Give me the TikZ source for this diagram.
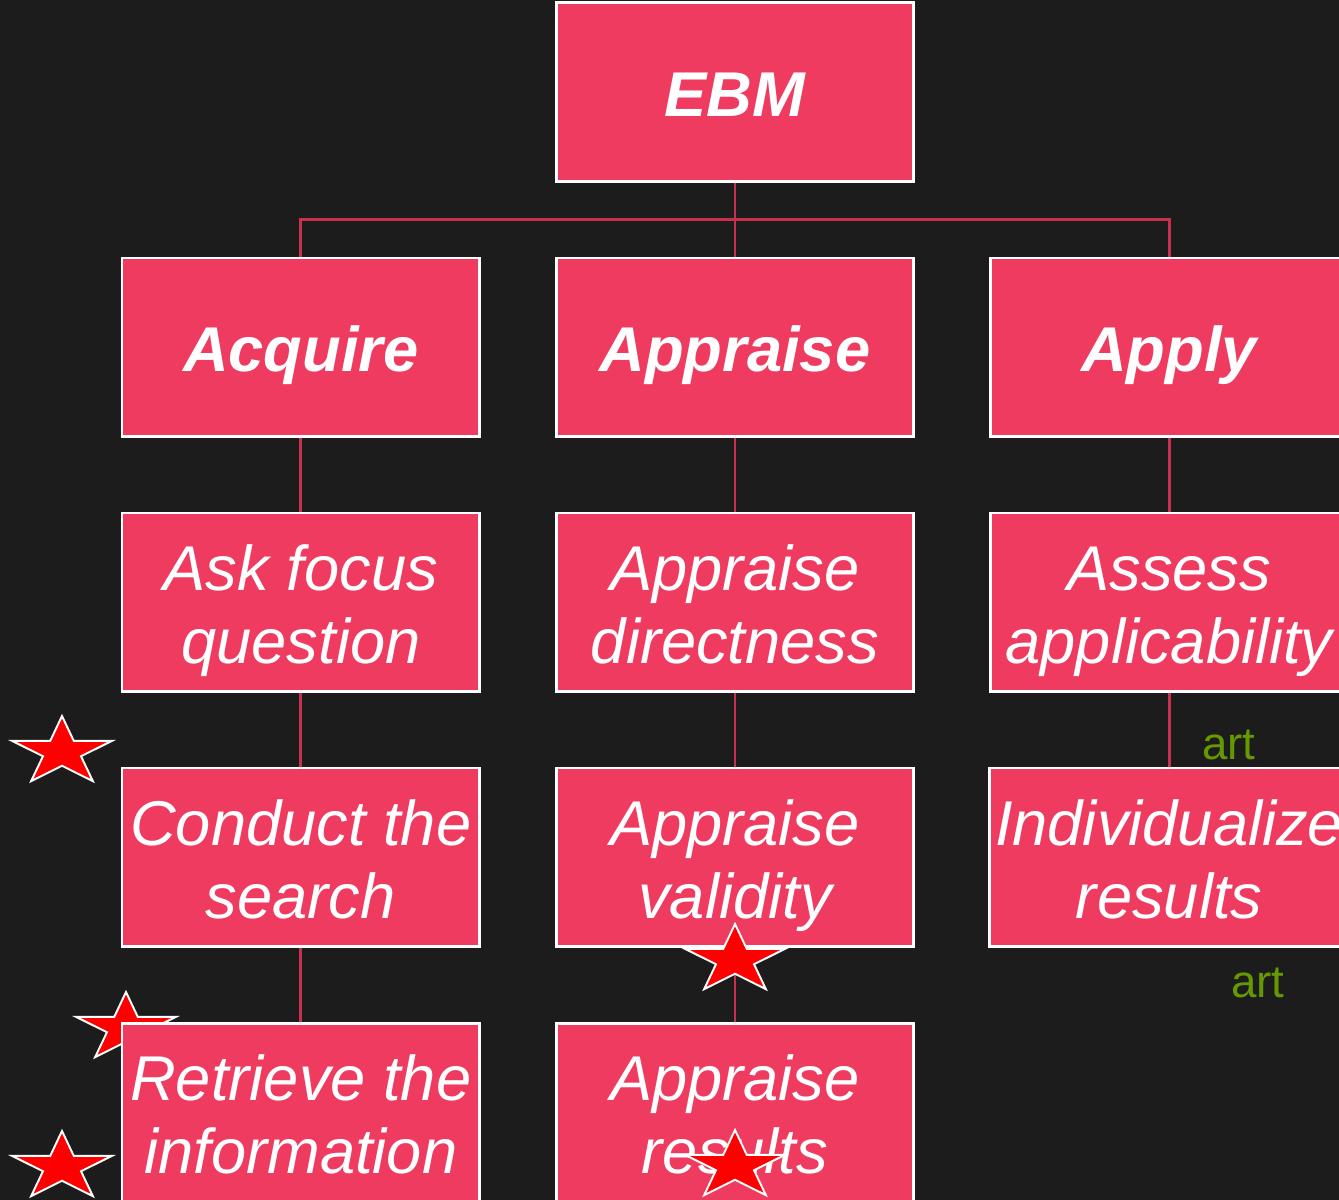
\documentclass[tikz,border=0pt]{standalone}
\usepackage{fontspec}
\setmainfont{Liberation Sans}
\usepackage{xcolor}
\usetikzlibrary{positioning, calc}

\definecolor{bgdark}{HTML}{1C1C1C}
\definecolor{boxred}{HTML}{EF3B5F}
\definecolor{linkred}{HTML}{C8304F}
\definecolor{artgreen}{HTML}{669900}

\newcommand{\boxstrut}{\rule[-8pt]{0pt}{43.8pt}}

\begin{document}
\begin{tikzpicture}[node distance=1.48cm,
    box/.style={rectangle, minimum width=7.15cm, minimum height=3.57cm, align=center, draw=white, line width=1.5pt, fill=boxred, text=white, font=\fontsize{36}{41.5}\selectfont\itshape, execute at end node=\boxstrut},
    head/.style={box, font=\fontsize{36}{41.5}\selectfont\bfseries\itshape},
    link/.style={draw=linkred, line width=1.6pt},
    artnote/.style={text=artgreen, font=\fontsize{26}{30}\selectfont},
    redstar/.pic={\filldraw[fill=red, draw=white, line width=1.1pt] (90:1.05 and 0.72)
        \foreach \k in {0,...,4} { -- ({126+72*\k}:0.4 and 0.275) -- ({162+72*\k}:1.05 and 0.72) } -- cycle;}]

\useasboundingbox[fill=bgdark] (0,0) rectangle (26.78,-24);

\pic at (2.52,-20.56) {redstar};

\node (ebm) [head] at (14.7,-1.84) {\boxstrut EBM};
\node (app) [head, below=of ebm] {\boxstrut Appraise};
\node (acq) [head, left=of app] {\boxstrut Acquire};
\node (apl) [head, right=of app] {\boxstrut Apply};

\node (ask) [box, below=of acq] {\boxstrut Ask focus\\question};
\node (srch) [box, below=of ask] {\boxstrut Conduct the\\search};
\node (retr) [box, below=of srch] {\boxstrut Retrieve the\\information};
\node (dir) [box, below=of app] {\boxstrut Appraise\\directness};
\node (val) [box, below=of dir] {\boxstrut Appraise\\validity};
\node (res) [box, below=of val] {\boxstrut Appraise\\results};
\node (aplc) [box, below=of apl] {\boxstrut Assess\\applicability};
\node (indv) [box, below=of aplc] {\boxstrut Individualize\\results};

\coordinate (bar) at ($(ebm.south)!0.5!(app.north)$);
\draw [link] (ebm) -- (app);
\draw [link] (acq.north) |- (bar) -| (apl.north);
\draw [link] (acq) -- (ask);
\draw [link] (ask) -- (srch);
\draw [link] (srch) -- (retr);
\draw [link] (app) -- (dir);
\draw [link] (dir) -- (val);
\draw [link] (val) -- (res);
\draw [link] (apl) -- (aplc);
\draw [link] (aplc) -- (indv);

\pic at (1.24,-15.04) {redstar};
\pic at (1.24,-23.34) {redstar};
\pic at (14.7,-19.2) {redstar};
\pic at (14.7,-23.32) {redstar};

\node (art1) [artnote, anchor=base] at (24.58,-15.2) {art};
\node (art2) [artnote, anchor=base] at (25.16,-19.94) {art};

\end{tikzpicture}
\end{document}
